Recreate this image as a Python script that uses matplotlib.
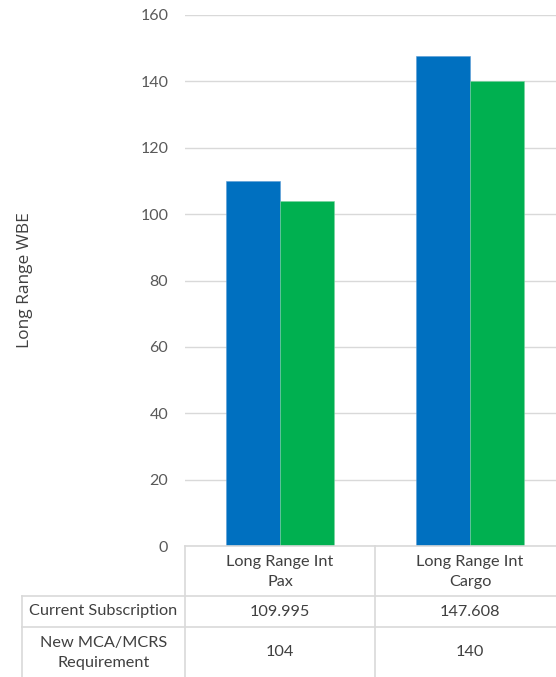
import matplotlib.pyplot as plt
from matplotlib.lines import Line2D
import numpy as np

categories = ["Long Range Int\nPax", "Long Range Int\nCargo"]
series_names = ["Current Subscription", "New MCA/MCRS\nRequirement"]
current_sub = [109.995, 147.608]
new_req = [104, 140]
y_ticks = [0, 20, 40, 60, 80, 100, 120, 140, 160]

W, H = 556, 677
plt.rcParams["font.family"] = ["Lato", "DejaVu Sans"]
fig = plt.figure(figsize=(W / 100, H / 100), dpi=100)

def fx(px):
    return px / W

def fy(py):
    return 1 - py / H

# plot area (right edge runs past the figure, as in the reference)
left, right, top, bottom = 185, 565, 15, 546
ax = fig.add_axes([fx(left), fy(bottom), fx(right - left), fy(top) - fy(bottom)])

x = np.arange(len(categories))
bw = 0.285
ax.bar(x - bw / 2, current_sub, bw, color="#0070C0", edgecolor="#5b9bd5", linewidth=0.4, zorder=3)
ax.bar(x + bw / 2, new_req, bw, color="#00B050", edgecolor="#7ad3a0", linewidth=0.4, zorder=3)

ax.set_xlim(-0.5, len(categories) - 0.5)
ax.set_ylim(0, 160)
ax.set_yticks(y_ticks)
ax.tick_params(axis="y", length=0, pad=12, labelsize=11.5, labelcolor="#595959")
ax.set_xticks([])
ax.grid(axis="y", color="#d9d9d9", linewidth=1.0, zorder=0)
for s in ax.spines.values():
    s.set_visible(False)

fig.text(fx(25), fy(280), "Long Range WBE", rotation=90, ha="center", va="center",
         fontsize=12.5, color="#404040", family=["Open Sans", "DejaVu Sans"])

# data table under the chart
grid_c = "#d9d9d9"
col_edges = [22, 185, 375, 565]
row_edges = [546, 596, 627, 677]

def hline(y, x0, x1):
    fig.add_artist(Line2D([fx(x0), fx(x1)], [fy(y), fy(y)], color=grid_c, lw=1.2))

def vline(xp, y0, y1):
    fig.add_artist(Line2D([fx(xp), fx(xp)], [fy(y0), fy(y1)], color=grid_c, lw=1.2))

hline(row_edges[0], col_edges[1], W)
hline(row_edges[1], col_edges[0], W)
hline(row_edges[2], col_edges[0], W)
vline(col_edges[0], row_edges[1], H)
vline(col_edges[1], row_edges[0], H)
vline(col_edges[2], row_edges[0], H)

txt = dict(ha="center", va="center", fontsize=11.7, color="#404040", linespacing=1.5)
for i, cat in enumerate(categories):
    cx = (col_edges[i + 1] + col_edges[i + 2]) / 2
    fig.text(fx(cx), fy((row_edges[0] + row_edges[1]) / 2 + 1), cat, **txt)
    fig.text(fx(cx), fy((row_edges[1] + row_edges[2]) / 2), f"{current_sub[i]:g}", **txt)
    fig.text(fx(cx), fy((row_edges[2] + row_edges[3]) / 2), f"{new_req[i]:g}", **txt)

lx = (col_edges[0] + col_edges[1]) / 2
fig.text(fx(lx), fy((row_edges[1] + row_edges[2]) / 2), series_names[0], **txt)
fig.text(fx(lx), fy((row_edges[2] + row_edges[3]) / 2 + 1), series_names[1], **txt)

fig.savefig("out.png", dpi=100)
